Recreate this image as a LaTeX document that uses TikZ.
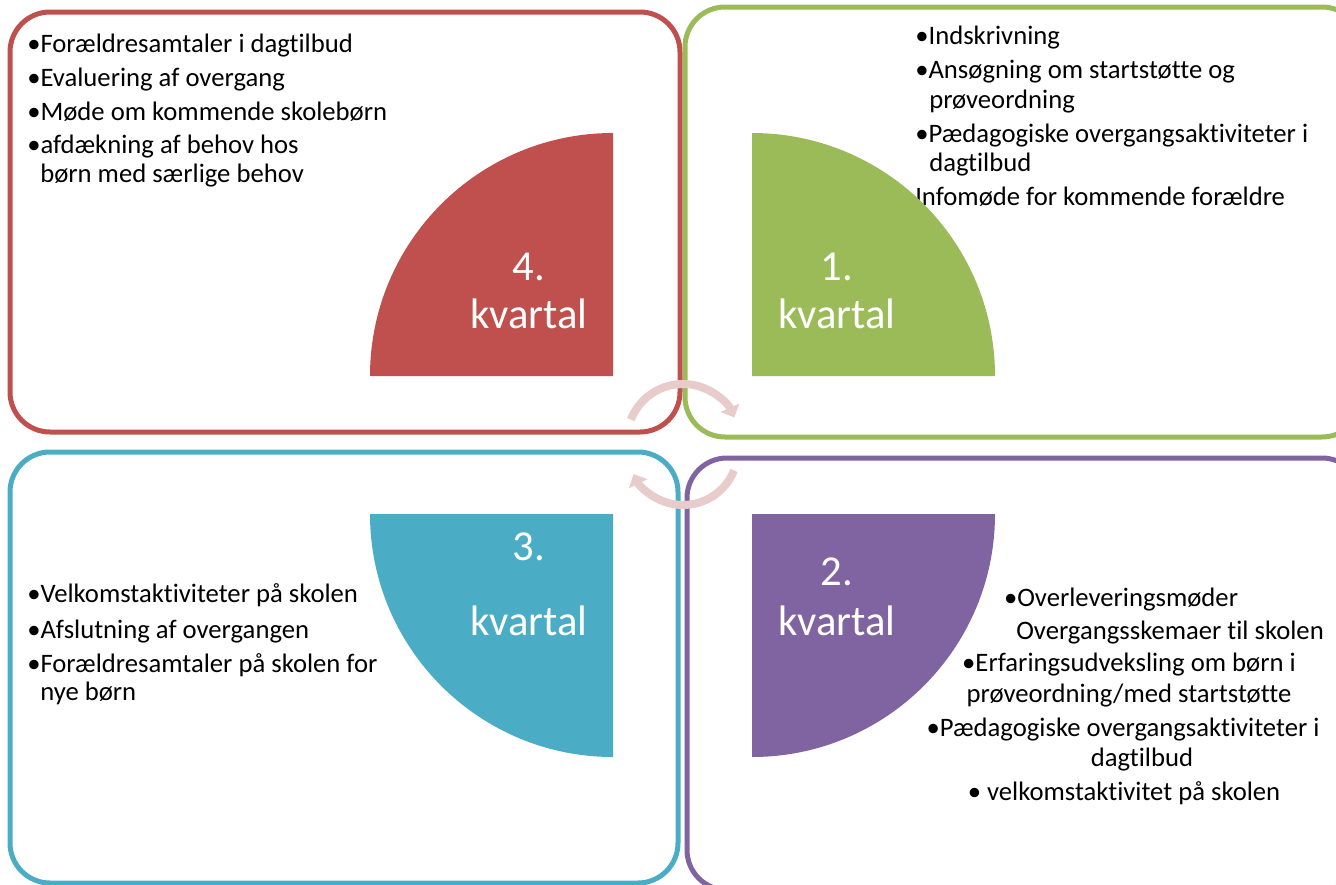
\documentclass[tikz,border=0pt]{standalone}
\usepackage{fontspec}
\setmainfont{Carlito}[Ligatures=NoCommon]
\usetikzlibrary{arrows.meta}

\definecolor{kvred}{HTML}{C0504D}
\definecolor{kvgreen}{HTML}{9BBB59}
\definecolor{kvblue}{HTML}{4BACC6}
\definecolor{kvpurple}{HTML}{8064A2}
\definecolor{kvpink}{RGB}{232,204,204}

\tikzset{
  kvframe/.style={line width=3.75pt, rounded corners=30pt},
  item/.style={anchor=base west, inner sep=0pt, font=\fontsize{20}{24}\selectfont},
  kvlabel/.style={anchor=base, inner sep=0pt, text=white, font=\fontsize{32}{36}\selectfont},
  cyclearrow/.style={line width=6pt, draw=kvpink, -{Triangle[width=15pt,length=8pt]}}
}

\begin{document}
\begin{tikzpicture}[x=0.75pt,y=0.75pt]
    \useasboundingbox (0,0) rectangle (1336,-885);
    \clip (0,0) rectangle (1336,-885);
    % frames
    \draw[kvframe,kvred] (10,-12) rectangle (680,-432);
    \draw[kvframe,kvgreen] (685,-7) rectangle (1362,-437);
    \draw[kvframe,kvblue] (10,-452) rectangle (678,-883);
    \draw[kvframe,kvpurple] (687,-458) rectangle (1362,-890);
    % item lists
    \foreach \x/\y/\t [count=\i] in {27/52/{•Forældresamtaler i dagtilbud}, 27/86/{•Evaluering af overgang}, 27/120/{•Møde om kommende skolebørn}, 27/153/{•afdækning af behov hos}, 40/182/{børn med særlige behov}}
        \node[item] at (\x,-\y) (red\i) {\t};
    \foreach \x/\y/\t [count=\i] in {915/45/{•Indskrivning}, 915/78/{•Ansøgning om startstøtte og}, 929/108/{prøveordning}, 915/142/{•Pædagogiske overgangsaktiviteter i}, 929/171/{dagtilbud}, 915/205/{Infomøde for kommende forældre}}
        \node[item] at (\x,-\y) (green\i) {\t};
    \foreach \x/\y/\t [count=\i] in {27/602/{•Velkomstaktiviteter på skolen}, 27/638/{•Afslutning af overgangen}, 27/672/{•Forældresamtaler på skolen for}, 40/700/{nye børn}}
        \node[item] at (\x,-\y) (blue\i) {\t};
    \foreach \x/\y/\t [count=\i] in {1121/606/{•Overleveringsmøder}, 1170/639/{Overgangsskemaer til skolen}, 1129/671/{•Erfaringsudveksling om børn i}, 1129/702/{prøveordning/med startstøtte}, 1123/736/{•Pædagogiske overgangsaktiviteter i}, 1142/766/{dagtilbud}, 1124/800/{• velkomstaktivitet på skolen}}
        \node[item,anchor=base] at (\x,-\y) (purple\i) {\t};
    % quarters
    \fill[kvred] (613,-376) -- (613,-133) arc[start angle=90,end angle=180,radius=243] -- cycle;
    \fill[kvgreen] (752,-376) -- (995,-376) arc[start angle=0,end angle=90,radius=243] -- cycle;
    \fill[kvblue] (613,-514) -- (370,-514) arc[start angle=180,end angle=270,radius=243] -- cycle;
    \fill[kvpurple] (752,-514) -- (752,-757) arc[start angle=270,end angle=360,radius=243] -- cycle;
    \foreach \n/\x/\ya/\yb in {4/529/280/328, 1/837/280/328, 3/529/560/635, 2/837/585/635} {
        \node[kvlabel] at (\x,-\ya) (num\n) {\n.};
        \node[kvlabel] at (\x,-\yb) (kv\n) {kvartal};
    }
    % cycle arrows
    \draw[cyclearrow] (683,-440) ++(158.6:56) arc[start angle=158.6,end angle=23.7,radius=56];
    \draw[cyclearrow] (683,-450) ++(-21.8:55) arc[start angle=-21.8,end angle=-154,radius=55];
\end{tikzpicture}
\end{document}
